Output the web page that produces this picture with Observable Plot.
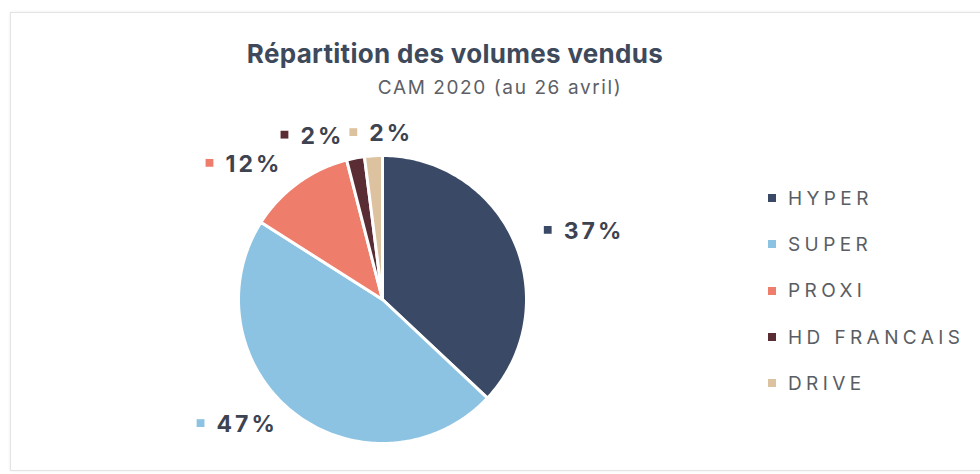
<!DOCTYPE html>
<html>
<head>
<meta charset="utf-8">
<script src="https://cdn.jsdelivr.net/npm/d3@7"></script>
<script src="https://cdn.jsdelivr.net/npm/@observablehq/plot@0.6"></script>
<style>
  body { margin: 0; background: #fff; font-family: Inter, "DejaVu Sans", sans-serif; }
  #wrap { position: relative; width: 980px; height: 474px; overflow: hidden; background: #fff; }
  #frame { position: absolute; left: 10px; top: 12px; width: 990px; height: 457px; border: 1px solid #e3e3e3; box-shadow: 0 0 3px rgba(0,0,0,0.07); }
  #chart { position: absolute; left: 0; top: 0; }
  #chart svg .pct text { letter-spacing: 3px; }
  #title { position: absolute; left: 0; width: 910px; top: 38px; text-align: center; font-weight: 700; font-size: 26px; color: #3e4a5b; letter-spacing: 0.3px; }
  #subtitle { position: absolute; left: 0; width: 1000px; top: 76px; text-align: center; font-size: 19px; color: #5d6066; letter-spacing: 1.6px; }
  #legend { position: absolute; left: 768px; top: 175px; }
  .item { height: 46.3px; display: flex; align-items: center; font-size: 19px; color: #5a5d63; letter-spacing: 4.4px; }
  .sw { width: 8px; height: 8px; margin-right: 12px; flex: none; }
</style>
</head>
<body>
<div id="wrap">
  <div id="frame"></div>
  <div id="chart"></div>
  <div id="title">Répartition des volumes vendus</div>
  <div id="subtitle">CAM 2020 (au 26 avril)</div>
  <div id="legend"></div>
</div>
<script>
const categories = ["HYPER", "SUPER", "PROXI", "HD FRANCAIS", "DRIVE"];
const values = [37, 47, 12, 2, 2];
const colors = ["#3a4a66", "#8cc3e2", "#ee7d6c", "#5a2d35", "#dcc29e"];
const pctLabels = ["37%", "47%", "12%", "2%", "2%"];

const rows = categories.map((c, i) => ({name: c, value: values[i], label: pctLabels[i]}));
const arcs = d3.pie().sort(null).value(d => d.value)(rows);

// slice outlines (center -> arc -> center), in unit-circle coordinates
const slicePts = arcs.flatMap(a => {
  const n = Math.max(2, Math.ceil((a.endAngle - a.startAngle) / (Math.PI / 180)));
  const pts = [{name: a.data.name, x: 0, y: 0}];
  for (let k = 0; k <= n; k++) {
    const t = a.startAngle + (a.endAngle - a.startAngle) * k / n;
    pts.push({name: a.data.name, x: Math.sin(t), y: Math.cos(t)});
  }
  pts.push({name: a.data.name, x: 0, y: 0});
  return pts;
});

const W = 980, H = 474;
const mL = 238, mR = 454, mT = 155, mB = 31;
const R = (W - mL - mR) / 2; // px per unit

const fontSize = 23, spacing = 3, markerGap = 20;
const ctx = document.createElement("canvas").getContext("2d");
ctx.font = `700 ${fontSize}px Inter`;
const boxes = arcs.map(a => {
  const m = (a.startAngle + a.endAngle) / 2;
  const px = 1.22 * Math.sin(m), py = 1.13 * Math.cos(m);
  const tw = ctx.measureText(a.data.label).width + (a.data.label.length - 1) * spacing;
  const boxW = (markerGap + tw) / R;
  const s = Math.sin(m);
  const left = s > 0.1 ? px : s < -0.1 ? px - boxW : px - boxW / 2;
  return {name: a.data.name, label: a.data.label, left, w: boxW, y: py};
});
// push apart labels that collide
const gap = 8 / R;
for (let pass = 0; pass < 4; pass++) {
  for (let i = 0; i < boxes.length; i++) for (let j = i + 1; j < boxes.length; j++) {
    const A = boxes[i], B = boxes[j];
    if (Math.abs(A.y - B.y) * R > 24) continue;
    const [L, Rt] = A.left < B.left ? [A, B] : [B, A];
    const overlap = L.left + L.w + gap - Rt.left;
    if (overlap > 0) { L.left -= overlap / 2; Rt.left += overlap / 2; }
  }
}
const labelData = boxes.map(b => ({name: b.name, label: b.label, mx: b.left + 4 / R, tx: b.left + markerGap / R, y: b.y}));

const plot = Plot.plot({
  width: W, height: H,
  marginLeft: mL, marginRight: mR, marginTop: mT, marginBottom: mB,
  x: {domain: [-1, 1], axis: null},
  y: {domain: [-1, 1], axis: null},
  color: {domain: categories, range: colors},
  style: {background: "transparent", overflow: "visible"},
  marks: [
    Plot.line(slicePts, {x: "x", y: "y", z: "name", fill: "name", stroke: "white", strokeWidth: 3, strokeLinejoin: "round"}),
    Plot.dot(labelData, {x: "mx", y: "y", dy: -5, symbol: "square", fill: "name", r: 4.4}),
    Plot.text(labelData, {x: "tx", y: "y", dy: -3, text: "label", textAnchor: "start", fontSize: fontSize, fontWeight: 700, fill: "#3d4350", fontFamily: "Inter", className: "pct"})
  ]
});
document.getElementById("chart").appendChild(plot);

const legend = document.getElementById("legend");
categories.forEach((c, i) => {
  const it = document.createElement("div");
  it.className = "item";
  const sw = document.createElement("span");
  sw.className = "sw";
  sw.style.background = colors[i];
  const tx = document.createElement("span");
  tx.textContent = c;
  it.appendChild(sw); it.appendChild(tx);
  legend.appendChild(it);
});
</script>
</body>
</html>
